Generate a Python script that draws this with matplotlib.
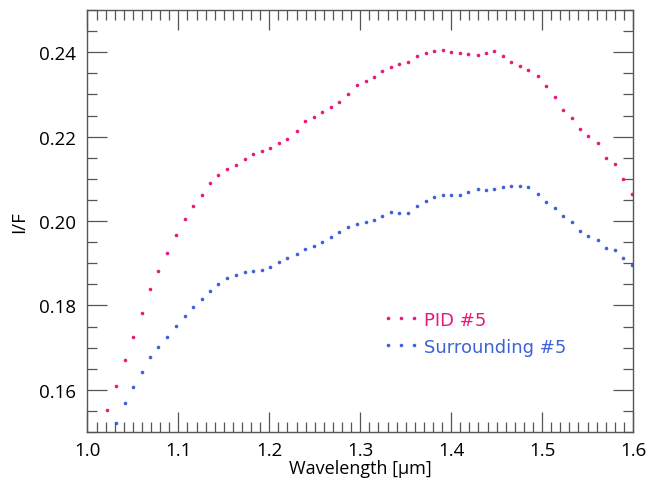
import matplotlib
matplotlib.use("Agg")
import matplotlib.pyplot as plt
from matplotlib.ticker import MultipleLocator

# Wavelength grid (µm)
wavelength = [
    1.021, 1.031, 1.041, 1.050, 1.060, 1.069, 1.078, 1.088, 1.097, 1.107,
    1.116, 1.126, 1.135, 1.144, 1.154, 1.163, 1.173, 1.182, 1.192, 1.201,
    1.211, 1.220, 1.230, 1.239, 1.249, 1.258, 1.268, 1.277, 1.287, 1.296,
    1.306, 1.315, 1.324, 1.334, 1.343, 1.353, 1.362, 1.372, 1.381, 1.391,
    1.400, 1.410, 1.419, 1.429, 1.438, 1.447, 1.457, 1.466, 1.476, 1.485,
    1.495, 1.504, 1.514, 1.523, 1.533, 1.542, 1.551, 1.561, 1.570, 1.580,
    1.589, 1.599,
]

# I/F spectrum of PID #5
pid_if = [
    0.1552, 0.1608, 0.1670, 0.1726, 0.1781, 0.1838, 0.1882, 0.1924, 0.1967, 0.2005,
    0.2035, 0.2061, 0.2089, 0.2109, 0.2123, 0.2133, 0.2148, 0.2159, 0.2166, 0.2173,
    0.2186, 0.2194, 0.2213, 0.2238, 0.2247, 0.2258, 0.2269, 0.2283, 0.2301, 0.2322,
    0.2331, 0.2341, 0.2356, 0.2365, 0.2371, 0.2377, 0.2390, 0.2397, 0.2402, 0.2405,
    0.2401, 0.2398, 0.2395, 0.2394, 0.2397, 0.2404, 0.2392, 0.2376, 0.2368, 0.2357,
    0.2343, 0.2321, 0.2293, 0.2262, 0.2243, 0.2219, 0.2202, 0.2186, 0.2149, 0.2136,
    0.2100, 0.2065,
]

# I/F spectrum of the surrounding terrain (starts one channel later)
sur_wavelength = wavelength[1:]
sur_if = [
    0.1522, 0.1568, 0.1607, 0.1643, 0.1677, 0.1702, 0.1726, 0.1752, 0.1775,
    0.1797, 0.1816, 0.1835, 0.1851, 0.1864, 0.1873, 0.1878, 0.1882, 0.1885, 0.1890,
    0.1903, 0.1913, 0.1922, 0.1934, 0.1940, 0.1950, 0.1961, 0.1973, 0.1985, 0.1994,
    0.1998, 0.2002, 0.2013, 0.2021, 0.2020, 0.2020, 0.2035, 0.2047, 0.2056, 0.2061,
    0.2061, 0.2061, 0.2069, 0.2076, 0.2073, 0.2076, 0.2080, 0.2083, 0.2084, 0.2080,
    0.2065, 0.2046, 0.2031, 0.2013, 0.1997, 0.1977, 0.1964, 0.1954, 0.1937, 0.1931,
    0.1913, 0.1895,
]

PINK = "#e8197f"
BLUE = "#3f63d6"
AXCOL = "#555555"

fig = plt.figure(figsize=(6.49, 4.81), dpi=100)
ax = fig.add_axes([0.1348, 0.0998, 0.8405, 0.8773])

ax.plot(wavelength, pid_if, linestyle="none", marker="o", markersize=2.6,
        markeredgewidth=0, color=PINK, label="PID #5", clip_on=True)
ax.plot(sur_wavelength, sur_if, linestyle="none", marker="o", markersize=2.6,
        markeredgewidth=0, color=BLUE, label="Surrounding #5", clip_on=True)

ax.set_xlim(1.0, 1.6)
ax.set_ylim(0.15, 0.25)

ax.xaxis.set_major_locator(MultipleLocator(0.1))
ax.xaxis.set_minor_locator(MultipleLocator(0.01))
ax.yaxis.set_major_locator(MultipleLocator(0.02))
ax.yaxis.set_minor_locator(MultipleLocator(0.005))
ax.xaxis.set_major_formatter(plt.FuncFormatter(lambda v, p: f"{v:.1f}"))
ax.yaxis.set_major_formatter(plt.FuncFormatter(lambda v, p: f"{v:.2f}"))

ax.tick_params(which="both", direction="in", top=True, right=True,
               color=AXCOL, width=0.9)
ax.tick_params(which="major", length=14.4)
ax.tick_params(which="minor", length=7.2)
ax.tick_params(axis="y", which="major", pad=8)
ax.tick_params(axis="x", which="major", pad=6.5)
for lab in ax.get_xticklabels() + ax.get_yticklabels():
    lab.set_fontfamily("Open Sans")
    lab.set_fontsize(13.5)
for s in ax.spines.values():
    s.set_color(AXCOL)
    s.set_linewidth(1.0)

ax.set_xlabel("Wavelength [µm]", fontfamily="Open Sans", fontsize=13, labelpad=0)
ax.set_ylabel("I/F", fontfamily="Open Sans", fontsize=13.5, labelpad=8)

leg = ax.legend(loc="center left", bbox_to_anchor=(0.512, 0.234), frameon=False,
                numpoints=3, handlelength=2.0, handletextpad=0.25,
                labelspacing=0.5, labelcolor="linecolor",
                prop={"family": "DejaVu Sans", "size": 13})

fig.savefig("out.png", dpi=100)
